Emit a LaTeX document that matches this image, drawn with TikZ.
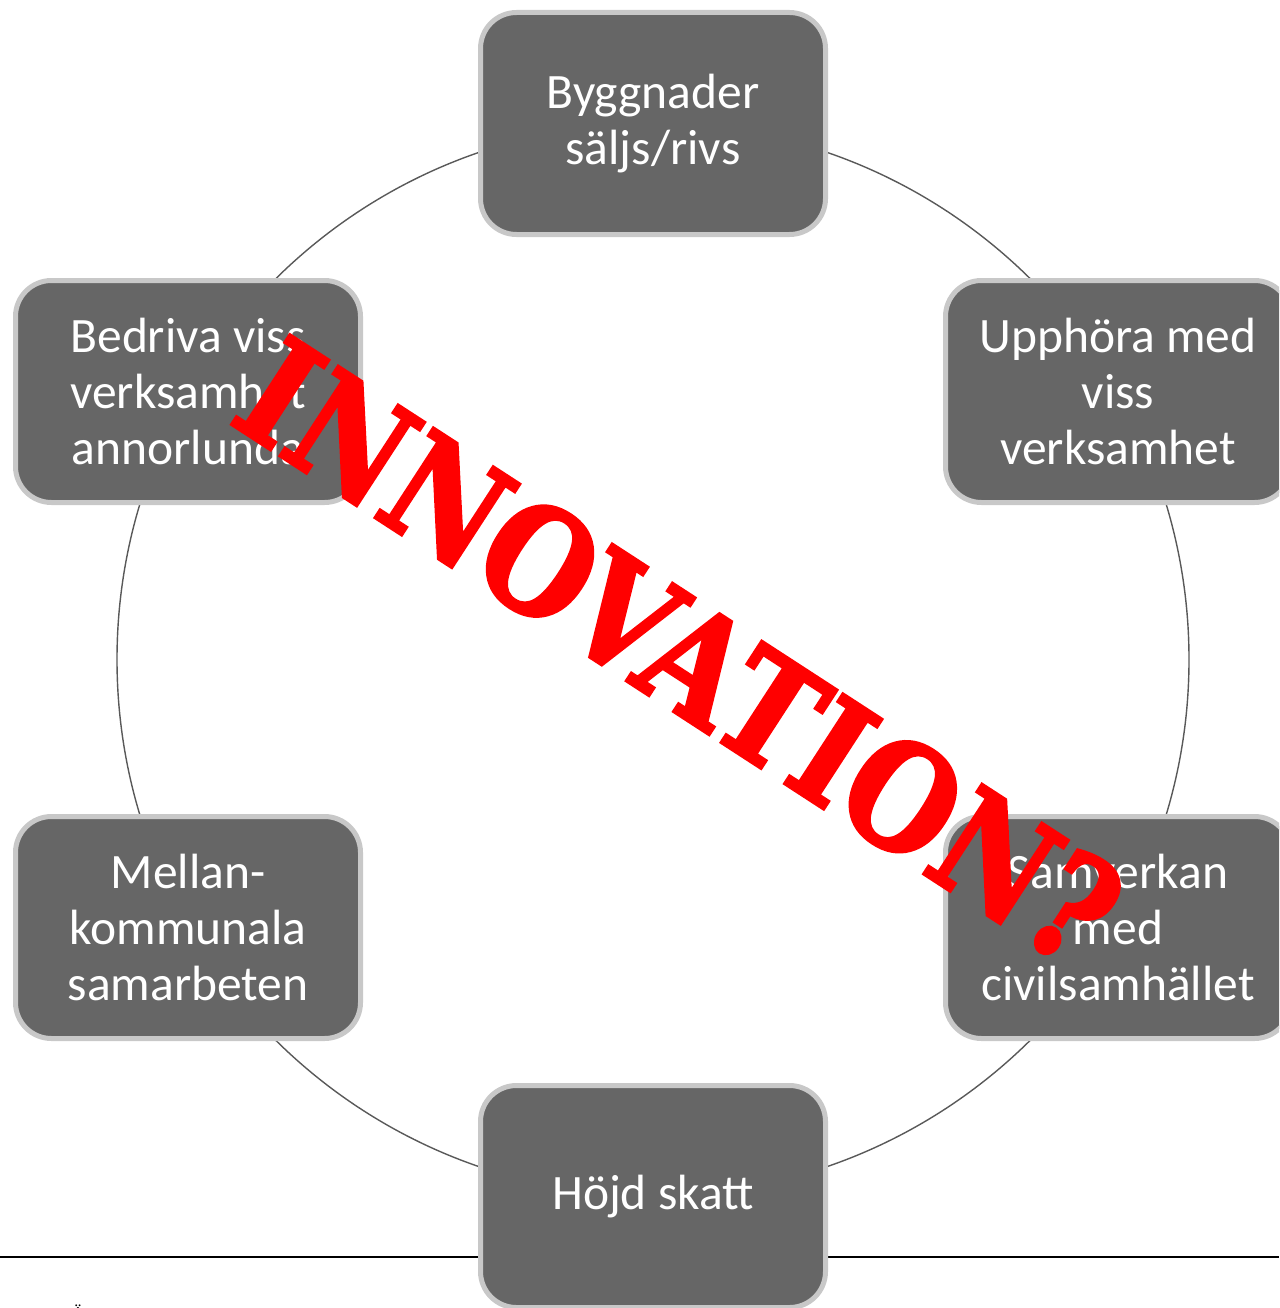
\documentclass[tikz,border=0pt]{standalone}
\usepackage{fontspec}
\setmainfont{Carlito}
\newfontfamily\stampfont{DejaVu Serif}[BoldFeatures={FakeBold=2.5}]
\definecolor{boxfill}{HTML}{666666}
\definecolor{boxedge}{HTML}{C8C8C8}
\definecolor{ringcol}{HTML}{595959}
\definecolor{stampred}{HTML}{FF0000}
\begin{document}
\begin{tikzpicture}[x=1pt,y=-1pt,
  item/.style={draw=boxedge, line width=5pt, fill=boxfill, rounded corners=36pt,
    minimum width=345pt, minimum height=222pt, inner sep=0pt, align=center,
    text=white, font=\fontsize{49.5}{56}\selectfont},
  ring/.style={draw=ringcol, line width=1.4pt},
  rule/.style={draw=black, line width=2pt},
  stamp/.style={text=stampred, font=\stampfont\bfseries\fontsize{146}{146}\selectfont, inner sep=0pt}]
\useasboundingbox (0,0) rectangle (1279,1308);
\clip (0,0) rectangle (1279,1308);
\coordinate (ctr) at (653,659.5);
\coordinate (ruleL) at (0,1257);
\coordinate (ruleR) at (1279,1257);
\draw[ring] (ctr) circle[radius=536];
\draw[rule] (ruleL) -- (ruleR);
\node[item] (top) at (653,123.5) {Byggnader\\säljs/rivs};
\node[item] (ur) at (1118,391.5) {Upphöra med\\viss\\verksamhet};
\node[item] (lr) at (1118,927.5) {Samverkan\\med\\civilsamhället};
\node[item] (bot) at (653,1196.5) {Höjd skatt};
\node[item] (ll) at (188,927.5) {Mellan-\\kommunala\\samarbeten};
\node[item] (ul) at (188,391.5) {Bedriva viss\\verksamhet\\annorlunda};
\node[font=\fontsize{17}{17}\selectfont, anchor=north, inner sep=0pt] (foot) at (78,1305) {Ä};
\node[stamp, rotate=-33, xscale=0.85] (innov) at (680,652) {INNOVATION?};
\end{tikzpicture}
\end{document}
